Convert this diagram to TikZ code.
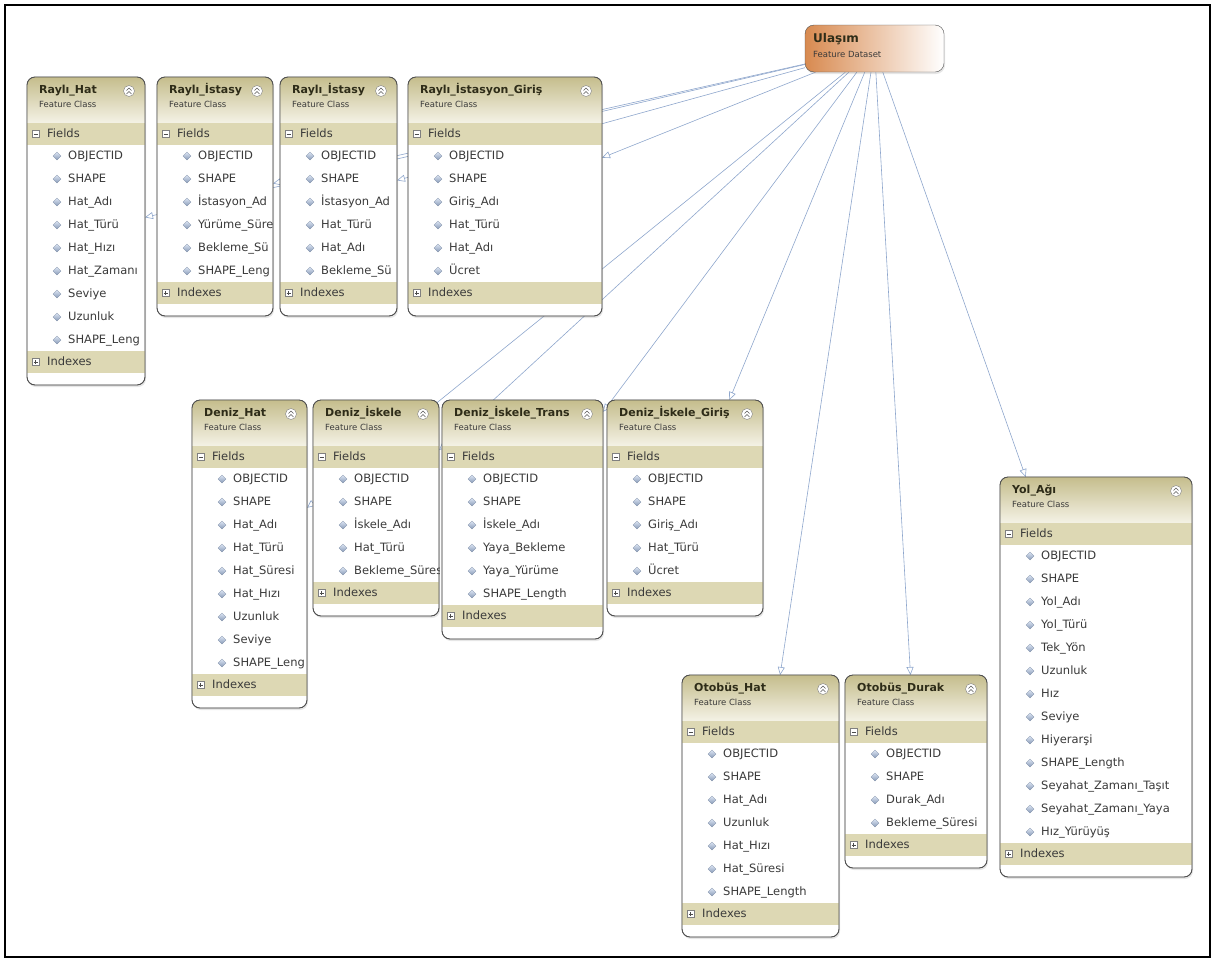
\documentclass[tikz,border=0pt]{standalone}
\usepackage{fontspec}
\setmainfont{DejaVu Sans}
\usetikzlibrary{arrows.meta,backgrounds,shadows}

\definecolor{hdtop}{HTML}{C5BD8C}
\definecolor{hdbot}{HTML}{F4F2E6}
\definecolor{band}{HTML}{DDD8B4}
\definecolor{boxline}{HTML}{505050}
\definecolor{linkc}{HTML}{8EA6CC}
\definecolor{gem}{HTML}{A9C0E4}
\definecolor{dsorange}{HTML}{D88A50}
\definecolor{itemc}{HTML}{3A3A3A}
\definecolor{titlec}{HTML}{2E2C18}

% name, left, top, right, number of fields, title, fields
\newcommand{\featclass}[7]{%
  \pgfmathsetmacro\fcbot{#3+101+23*#5}
  \pgfmathsetmacro\fcw{#4-#2}
  \pgfmathsetmacro\fch{\fcbot-#3}
  \node[classbox, minimum width=\fcw pt, minimum height=\fch pt] (#1) at ({(#2+#4)/2},{(#3+\fcbot)/2}) {};
  \begin{scope}
    \clip[rounded corners=8pt] (#2,#3) rectangle (#4,\fcbot);
    \shade[top color=hdtop, bottom color=hdbot] (#2,#3) rectangle (#4,#3+46);
    \fill[band] (#2,#3+46) rectangle (#4,#3+68);
    \fill[band] (#2,#3+67+23*#5) rectangle (#4,#3+89+23*#5);
    \node[ttl] at (#2+12,#3+14) {#6};
    \node[sub] at (#2+12,#3+28) {Feature Class};
    \draw[gray, fill=white] (#4-16,#3+14) circle (5.5);
    \draw[gray!70!black, line width=0.6pt] (#4-18.5,#3+13.5) -- (#4-16,#3+11) -- (#4-13.5,#3+13.5)
      (#4-18.5,#3+17) -- (#4-16,#3+14.5) -- (#4-13.5,#3+17);
    \draw[gray, fill=white] (#2+5,#3+53.5) rectangle ++(7,7);
    \draw[gray!60!black] (#2+6.5,#3+57) -- ++(4,0);
    \node[fld] at (#2+20,#3+57) {Fields};
    \foreach \f [count=\k] in {#7}
      {\shade[top color=gem!40!white, bottom color=gem!80!black, draw=gem!70!black, line width=0.3pt]
         (#2+30,#3+52+23*\k) -- (#2+34,#3+56+23*\k) -- (#2+30,#3+60+23*\k) -- (#2+26,#3+56+23*\k) -- cycle;
       \node[fld] at (#2+41,#3+56+23*\k) {\f};}
    \draw[gray, fill=white] (#2+5,#3+74.5+23*#5) rectangle ++(7,7);
    \draw[gray!60!black] (#2+6.5,#3+78+23*#5) -- ++(4,0) (#2+8.5,#3+76+23*#5) -- ++(0,4);
    \node[fld] at (#2+20,#3+78+23*#5) {Indexes};
  \end{scope}
  \draw[boxline, line width=0.9pt, rounded corners=8pt] (#2,#3) rectangle (#4,\fcbot);
}

\begin{document}
\begin{tikzpicture}[x=1pt, y=-1pt,
  classbox/.style={draw=boxline, fill=white, rounded corners=8pt, inner sep=0pt, outer sep=0pt,
    drop shadow={opacity=0.2, shadow xshift=1pt, shadow yshift=-2pt}},
  dset/.style={draw=boxline, rounded corners=9pt, left color=dsorange, right color=white, inner sep=0pt,
    drop shadow={opacity=0.2, shadow xshift=1pt, shadow yshift=-2pt}},
  ttl/.style={anchor=west, inner sep=0pt, text height=8pt, text depth=2.5pt, text=titlec,
    font=\fontsize{11}{12}\selectfont\bfseries},
  sub/.style={anchor=west, inner sep=0pt, text height=6pt, text depth=2pt, text=itemc,
    font=\fontsize{8.5}{9}\selectfont},
  fld/.style={anchor=west, inner sep=0pt, text height=8.5pt, text depth=2.5pt, text=itemc,
    font=\fontsize{11.5}{12}\selectfont},
  link/.style={draw=linkc, line width=0.6pt, -{Triangle[open, length=8pt, width=7pt]}}]

\useasboundingbox (0,0) rectangle (1215,962);
\draw[line width=2.2pt] (5,5) rectangle (1210,957);

\node[dset, minimum width=139pt, minimum height=47pt] (ulasim) at (874.5,48.5) {};
\node[ttl, font=\fontsize{12}{13}\selectfont\bfseries] at (813,40) {Ulaşım};
\node[sub] at (813,55) {Feature Dataset};

\featclass{rhat}{27}{77}{145}{9}{Raylı\_Hat}{OBJECTID, SHAPE, Hat\_Adı, Hat\_Türü, Hat\_Hızı, Hat\_Zamanı, Seviye, Uzunluk, SHAPE\_Leng}
\featclass{rist1}{157}{77}{273}{6}{Raylı\_İstasy}{OBJECTID, SHAPE, İstasyon\_Ad, Yürüme\_Süre, Bekleme\_Sü, SHAPE\_Leng}
\featclass{rist2}{280}{77}{397}{6}{Raylı\_İstasy}{OBJECTID, SHAPE, İstasyon\_Ad, Hat\_Türü, Hat\_Adı, Bekleme\_Sü}
\featclass{rgiris}{408}{77}{602}{6}{Raylı\_İstasyon\_Giriş}{OBJECTID, SHAPE, Giriş\_Adı, Hat\_Türü, Hat\_Adı, Ücret}

\featclass{dhat}{192}{400}{307}{9}{Deniz\_Hat}{OBJECTID, SHAPE, Hat\_Adı, Hat\_Türü, Hat\_Süresi, Hat\_Hızı, Uzunluk, Seviye, SHAPE\_Leng}
\featclass{diskele}{313}{400}{439}{5}{Deniz\_İskele}{OBJECTID, SHAPE, İskele\_Adı, Hat\_Türü, Bekleme\_Süres}
\featclass{dtrans}{442}{400}{603}{6}{Deniz\_İskele\_Trans}{OBJECTID, SHAPE, İskele\_Adı, Yaya\_Bekleme, Yaya\_Yürüme, SHAPE\_Length}
\featclass{dgiris}{607}{400}{763}{5}{Deniz\_İskele\_Giriş}{OBJECTID, SHAPE, Giriş\_Adı, Hat\_Türü, Ücret}

\featclass{ohat}{682}{675}{839}{7}{Otobüs\_Hat}{OBJECTID, SHAPE, Hat\_Adı, Uzunluk, Hat\_Hızı, Hat\_Süresi, SHAPE\_Length}
\featclass{odurak}{845}{675}{987}{4}{Otobüs\_Durak}{OBJECTID, SHAPE, Durak\_Adı, Bekleme\_Süresi}
\featclass{yol}{1000}{477}{1192}{13}{Yol\_Ağı}{OBJECTID, SHAPE, Yol\_Adı, Yol\_Türü, Tek\_Yön, Uzunluk, Hız, Seviye, Hiyerarşi, SHAPE\_Length, Seyahat\_Zamanı\_Taşıt, Seyahat\_Zamanı\_Yaya, Hız\_Yürüyüş}

\begin{pgfonlayer}{background}
\foreach \t in {rhat,rist1,rist2,rgiris,dhat,diskele,dtrans,dgiris,ohat,odurak,yol}
  \draw[link] (ulasim) -- (\t);
\end{pgfonlayer}
\end{tikzpicture}
\end{document}
